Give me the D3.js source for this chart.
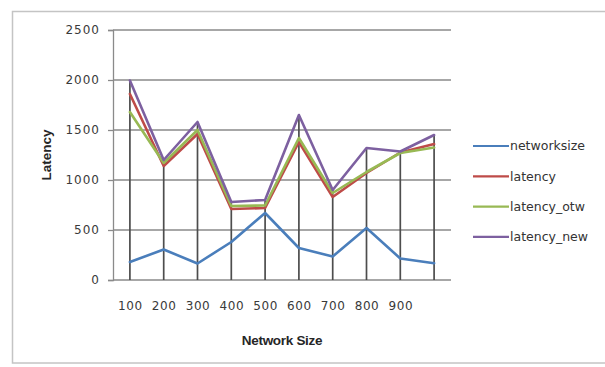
<!DOCTYPE html>
<html>
<head>
<meta charset="utf-8">
<script src="https://cdn.jsdelivr.net/npm/d3@7/dist/d3.min.js"></script>
<style>
  html, body { margin: 0; padding: 0; background: #fff; }
  svg { display: block; }
</style>
</head>
<body>
<svg id="chart" width="605" height="367"></svg>
<script>
// Category positions along the x axis (the last one carries no label)
const categories = [100, 200, 300, 400, 500, 600, 700, 800, 900, 1000];
const tickLabels = ["100", "200", "300", "400", "500", "600", "700", "800", "900", ""];
const yTicks = [0, 500, 1000, 1500, 2000, 2500];

// Series values
const networksize = [180, 305, 165, 380, 670, 320, 235, 520, 215, 168];
const latency     = [1860, 1140, 1460, 710, 720, 1380, 830, 1070, 1275, 1360];
const latencyOtw  = [1680, 1170, 1500, 740, 745, 1420, 870, 1080, 1270, 1325];
const latencyNew  = [1995, 1200, 1580, 780, 800, 1650, 900, 1320, 1285, 1450];

const seriesNames  = ["networksize", "latency", "latency_otw", "latency_new"];
const seriesValues = [networksize, latency, latencyOtw, latencyNew];
const seriesColors = ["#4a7ebb", "#be4b48", "#98b954", "#7d60a0"];

const svg = d3.select("#chart");
const plot = { left: 113, right: 451, top: 30, bottom: 280 };

// Chart area frame
svg.append("rect")
  .attr("x", 12.5).attr("y", 11.5)
  .attr("width", 600).attr("height", 351.5)
  .attr("fill", "#fff")
  .attr("stroke", "#c4c4c4")
  .attr("stroke-width", 1.5);

const x = d3.scalePoint()
  .domain(categories)
  .range([plot.left, plot.right])
  .padding(0.5);

const y = d3.scaleLinear()
  .domain([0, 2500])
  .range([plot.bottom, plot.top]);

// Horizontal gridlines
svg.append("g")
  .selectAll("line")
  .data(yTicks.filter(d => d > 0))
  .join("line")
  .attr("x1", plot.left).attr("x2", plot.right)
  .attr("y1", d => y(d)).attr("y2", d => y(d))
  .attr("stroke", "#8a8a8a")
  .attr("stroke-width", 1.3);

// Y axis
const yAxis = svg.append("g")
  .attr("transform", `translate(${plot.left},0)`)
  .call(d3.axisLeft(y).tickValues(yTicks).tickFormat(d3.format("d")).tickSize(5).tickPadding(8));
yAxis.select(".domain").attr("stroke", "#8a8a8a").attr("stroke-width", 1.3);
yAxis.selectAll(".tick line").attr("stroke", "#8a8a8a").attr("stroke-width", 1.3);
yAxis.selectAll(".tick text")
  .attr("font-family", "DejaVu Sans, sans-serif")
  .attr("font-size", 12)
  .attr("letter-spacing", 1)
  .attr("fill", "#3a3a3a");

// X axis
const xAxis = svg.append("g")
  .attr("transform", `translate(0,${plot.bottom})`)
  .call(d3.axisBottom(x).tickSize(0).tickPadding(21).tickFormat((d, i) => tickLabels[i]));
xAxis.select(".domain")
  .attr("d", `M${plot.left},0H${plot.right}`)
  .attr("stroke", "#8a8a8a").attr("stroke-width", 1.3);
xAxis.selectAll(".tick text")
  .attr("font-family", "DejaVu Sans, sans-serif")
  .attr("font-size", 12)
  .attr("letter-spacing", 0.6)
  .attr("fill", "#3a3a3a");

// Drop lines from the highest point of each category down to the axis
svg.append("g")
  .selectAll("line")
  .data(categories)
  .join("line")
  .attr("x1", d => x(d)).attr("x2", d => x(d))
  .attr("y1", (d, i) => y(d3.max(seriesValues, s => s[i])))
  .attr("y2", y(0))
  .attr("stroke", "#4d4d4d")
  .attr("stroke-width", 1.7);

// Series lines
const line = d3.line()
  .x((d, i) => x(categories[i]))
  .y(d => y(d));

svg.append("g")
  .selectAll("path")
  .data(seriesValues)
  .join("path")
  .attr("d", d => line(d))
  .attr("fill", "none")
  .attr("stroke", (d, i) => seriesColors[i])
  .attr("stroke-width", 2.6)
  .attr("stroke-linejoin", "round")
  .attr("stroke-linecap", "round");

// Axis titles
svg.append("text")
  .attr("x", (plot.left + plot.right) / 2)
  .attr("y", 345)
  .attr("text-anchor", "middle")
  .attr("font-family", "Liberation Sans, Arial, sans-serif")
  .attr("font-weight", "bold")
  .attr("font-size", 13.5)
  .attr("letter-spacing", -0.3)
  .attr("fill", "#262626")
  .text("Network Size");

svg.append("text")
  .attr("transform", "translate(51,155) rotate(-90)")
  .attr("text-anchor", "middle")
  .attr("font-family", "Liberation Sans, Arial, sans-serif")
  .attr("font-weight", "bold")
  .attr("font-size", 13.5)
  .attr("fill", "#262626")
  .text("Latency");

// Legend
const legend = svg.append("g")
  .selectAll("g")
  .data(seriesNames)
  .join("g")
  .attr("transform", (d, i) => `translate(473,${146 + i * 30.3})`);

legend.append("line")
  .attr("x1", 0).attr("x2", 36)
  .attr("stroke", (d, i) => seriesColors[i])
  .attr("stroke-width", 2.2);

legend.append("text")
  .attr("x", 37)
  .attr("dy", "0.35em")
  .attr("font-family", "DejaVu Sans, sans-serif")
  .attr("font-size", 12.5)
  .attr("fill", "#333")
  .text(d => d);
</script>
</body>
</html>
